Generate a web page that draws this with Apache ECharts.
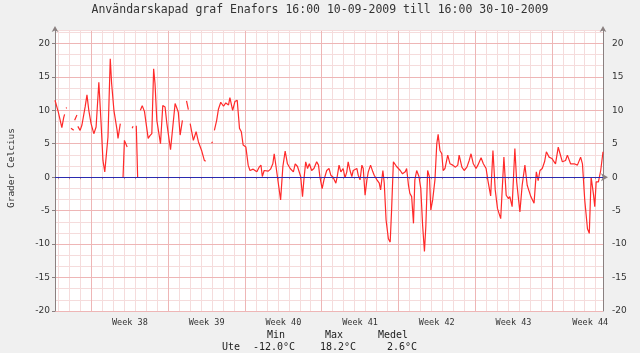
<!DOCTYPE html>
<html><head><meta charset="utf-8">
<script src="https://cdn.jsdelivr.net/npm/echarts@6/dist/echarts.min.js"></script>
<style>html,body{margin:0;padding:0;background:#f0f0f0}#c{width:640px;height:353px}</style>
</head><body><div id="c"></div>
<script>
const chartTitle = 'Användarskapad graf Enafors 16:00 10-09-2009 till 16:00 30-10-2009';
const yName = 'Grader Celcius';
const seriesName = 'Ute';
const statHeads = ['Min', 'Max', 'Medel'];
const statVals = ['-12.0°C', '18.2°C', '2.6°C'];
const startUTC = Date.UTC(2009, 8, 10, 16);
const spanHours = 1200;
const yMin = -20, yMax = 22, yLabelStep = 5, yMinorStep = 5 / 3;

// hours since 10-09-2009 16:00 and temperature readings (null = no data)
const hours = [0,7,12,15,19,21,22,24,26,28,35,41,42,43,48,49,50,55,59,66,70,74,79,85,90,96,101,105,109,112,116,121,124,129,136,138,143,146,149,152,158,160,169,171,173,178,181,184,187,191,196,204,208,212,216,219,223,231,236,241,245,253,263,266,270,274,279,283,288,292,294,296,303,309,314,321,327,330,336,343,345,347,349,354,358,363,369,374,380,383,389,394,399,402,404,408,412,418,423,427,434,442,447,451,454,458,462,467,472,477,480,484,489,494,499,504,509,515,522,526,531,535,538,542,545,549,553,557,562,567,573,577,580,585,589,595,600,604,609,615,618,622,626,631,635,639,642,646,650,653,657,661,664,668,672,675,679,683,686,691,696,699,705,710,713,718,721,725,730,734,737,741,748,756,761,767,770,774,777,781,785,788,792,797,801,805,809,812,816,820,823,827,832,836,839,843,847,850,854,860,865,871,877,882,885,891,896,902,907,911,916,922,926,933,938,944,948,954,959,964,969,976,983,988,993,996,1001,1007,1011,1018,1023,1029,1034,1042,1049,1054,1058,1062,1067,1072,1076,1082,1088,1093,1096,1102,1106,1111,1118,1122,1129,1137,1144,1151,1155,1160,1166,1170,1174,1179,1182,1185,1190,1195,1200];
const temps = [11.5,9.8,8.3,7.4,8.9,9.4,null,10.3,10.4,null,7.3,7.0,null,8.5,9.3,null,7.6,7.0,7.8,10.5,12.3,10.0,8.0,6.5,7.5,14.2,8.0,2.5,0.8,0.8,6.0,17.7,14.0,10.0,7.0,5.8,8.0,null,0.0,5.5,4.5,null,7.3,7.6,null,7.7,0.0,null,10.0,10.7,9.8,5.8,6.2,6.5,16.2,14.0,8.5,5.0,10.7,10.5,8.0,4.1,11.0,10.5,9.7,6.3,8.5,null,11.4,10.1,null,8.0,5.5,6.8,5.3,4.0,2.5,2.4,null,5.1,5.3,null,7.0,8.5,10.2,11.2,10.6,11.1,10.8,11.9,10.0,11.3,11.5,9.0,7.3,6.8,4.8,4.5,1.8,1.0,1.2,0.8,1.5,1.8,0.1,1.0,1.2,0.9,1.2,2.0,3.5,1.6,-0.9,-3.4,1.6,3.9,2.0,1.3,0.8,2.0,1.6,1.8,0.1,-2.9,-0.4,2.3,1.3,2.0,1.0,1.3,2.3,1.8,0.1,-1.7,-0.4,1.0,1.3,0.3,0.0,-0.9,0.1,1.8,0.8,1.3,-0.1,0.8,2.3,1.0,0.1,1.0,0.8,1.3,0.3,-0.4,1.8,1.3,-2.7,-0.4,0.8,1.8,0.8,0.3,-0.4,-0.9,-1.9,1.0,-0.9,-6.4,-9.2,-9.7,-5.0,2.3,1.6,1.0,0.5,0.8,1.3,-1.2,-2.4,-2.9,-6.9,-0.4,1.0,0.1,-1.7,-7.2,-11.1,-7.4,1.0,0.05,-4.9,-3.4,-0.4,5.0,6.4,4.0,3.5,1.0,1.3,3.3,2.0,1.8,1.5,1.8,3.3,1.5,1.0,1.5,2.5,3.5,2.0,1.3,1.8,2.9,2.0,1.3,-0.5,-2.8,4.0,-1.9,-4.7,-6.2,3.0,-2.7,-3.2,-2.9,-4.4,4.3,-0.7,-5.2,-1.2,1.8,-1.2,-2.9,-3.9,0.8,-0.5,1.0,1.3,2.3,3.8,3.0,2.8,2.3,2.0,4.5,3.5,2.3,2.5,3.3,2.0,2.0,1.8,3.0,2.0,-3.4,-7.7,-8.4,0.0,-2.5,-4.4,-0.7,-0.7,1.0,3.8];

const minorCol = '#f5dcdc', majorCol = '#eeb6b6';
const cats = [];
for (let i = 0; i <= spanHours; i++) {
  cats.push(new Date(startUTC + i * 3600e3).toISOString().slice(0, 16).replace('T', ' '));
}
const dt = i => new Date(startUTC + i * 3600e3);
const isMidnight = i => dt(i).getUTCHours() === 0;
const isMonday = i => isMidnight(i) && dt(i).getUTCDay() === 1;
const isThuNoon = i => dt(i).getUTCHours() === 12 && dt(i).getUTCDay() === 4;
function isoWeek(d) {
  const t = new Date(Date.UTC(d.getUTCFullYear(), d.getUTCMonth(), d.getUTCDate()));
  const day = t.getUTCDay() || 7;
  t.setUTCDate(t.getUTCDate() + 4 - day);
  const y0 = new Date(Date.UTC(t.getUTCFullYear(), 0, 1));
  return Math.ceil(((t - y0) / 864e5 + 1) / 7);
}
const isMult = v => Math.abs(v / yLabelStep - Math.round(v / yLabelStep)) < 1e-6;
const fmtY = v => isMult(v) ? String(Math.round(v)) : '';
const majColors = [];
for (let v = yMin; v <= yMax; v += yLabelStep) majColors.push(majorCol);
majColors.push(minorCol);

const chart = echarts.init(document.getElementById('c'), null, {renderer: 'canvas'});
const mono = 'DejaVu Sans Mono';
chart.setOption({
  animation: false,
  backgroundColor: '#f0f0f0',
  grid: {left: 55, right: 37, top: 30, bottom: 42, show: true, backgroundColor: '#ffffff', borderWidth: 0},
  xAxis: [{
    type: 'category', data: cats, boundaryGap: false, position: 'bottom',
    axisLine: {show: true, lineStyle: {color: '#8a8080', width: 1}, symbol: ['none', 'arrow'], symbolSize: [6, 7], symbolOffset: [0, 5]},
    axisTick: {show: true, interval: isMidnight, length: 2, lineStyle: {color: '#c09090'}},
    axisLabel: {interval: isThuNoon, margin: 7, fontFamily: mono, fontSize: 8.5, color: '#333',
      formatter: v => 'Week ' + isoWeek(new Date(v.replace(' ', 'T') + ':00Z'))},
    splitLine: {show: true, interval: isMidnight, lineStyle: {color: minorCol, width: 1}}
  }, {
    type: 'category', data: cats, boundaryGap: false, position: 'top',
    axisLine: {show: false}, axisTick: {show: false}, axisLabel: {show: false},
    splitLine: {show: true, interval: isMonday, lineStyle: {color: majorCol, width: 1}}
  }],
  yAxis: [{
    type: 'value', position: 'left', min: yMin, max: yMax, interval: yLabelStep, z: 2,
    axisLine: {show: true, lineStyle: {color: '#8a8080'}, symbol: ['none', 'arrow'], symbolSize: [5, 6], symbolOffset: [0, 4]},
    axisTick: {show: true, length: 3, lineStyle: {color: '#8a8080'}},
    axisLabel: {showMaxLabel: false, margin: 5, fontFamily: 'DejaVu Sans', fontSize: 9, color: '#333', formatter: fmtY},
    splitLine: {show: true, lineStyle: {color: majColors, width: 1}}
  }, {
    type: 'value', position: 'right', min: yMin, max: yMax, interval: yLabelStep, z: 2,
    axisLine: {show: true, lineStyle: {color: '#8a8080'}, symbol: ['none', 'arrow'], symbolSize: [5, 6], symbolOffset: [0, 4]},
    axisTick: {show: false},
    axisLabel: {showMaxLabel: false, margin: 9, fontFamily: 'DejaVu Sans', fontSize: 9, color: '#333', formatter: fmtY},
    splitLine: {show: false}
  }, {
    type: 'value', position: 'right', min: yMin, max: yMax, interval: yMinorStep, z: 0,
    axisLine: {show: false}, axisTick: {show: false}, axisLabel: {show: false},
    splitLine: {show: true, lineStyle: {color: minorCol, width: 1}}
  }],
  series: [{
    name: seriesName, type: 'line', xAxisIndex: 0, yAxisIndex: 0, z: 3,
    data: hours.map((h, i) => [h, temps[i] === null ? '-' : temps[i]]),
    showSymbol: false, connectNulls: false,
    lineStyle: {color: '#ff2a2a', width: 1.2}, itemStyle: {color: '#ff2a2a'},
    markLine: {silent: true, symbol: 'none', label: {show: false}, animation: false,
      lineStyle: {color: '#2b2bb0', width: 1, type: 'solid'}, data: [{yAxis: 0}]}
  }],
  graphic: [
    {type: 'text', x: 320, y: 10, style: {text: chartTitle, font: '11.5px ' + mono, fill: '#333', align: 'center', verticalAlign: 'middle'}},
    {type: 'text', x: 12, y: 168, rotation: Math.PI / 2, style: {text: yName, font: '9.5px ' + mono, fill: '#333', align: 'center', verticalAlign: 'middle'}},
    {type: 'text', x: 276, y: 335, style: {text: statHeads[0], font: '10px ' + mono, fill: '#222', align: 'center', verticalAlign: 'middle'}},
    {type: 'text', x: 334, y: 335, style: {text: statHeads[1], font: '10px ' + mono, fill: '#222', align: 'center', verticalAlign: 'middle'}},
    {type: 'text', x: 393, y: 335, style: {text: statHeads[2], font: '10px ' + mono, fill: '#222', align: 'center', verticalAlign: 'middle'}},
    {type: 'text', x: 231, y: 347, style: {text: seriesName, font: '10px ' + mono, fill: '#222', align: 'center', verticalAlign: 'middle'}},
    {type: 'text', x: 274, y: 347, style: {text: statVals[0], font: '10px ' + mono, fill: '#222', align: 'center', verticalAlign: 'middle'}},
    {type: 'text', x: 338, y: 347, style: {text: statVals[1], font: '10px ' + mono, fill: '#222', align: 'center', verticalAlign: 'middle'}},
    {type: 'text', x: 402, y: 347, style: {text: statVals[2], font: '10px ' + mono, fill: '#222', align: 'center', verticalAlign: 'middle'}}
  ]
});
</script></body></html>
